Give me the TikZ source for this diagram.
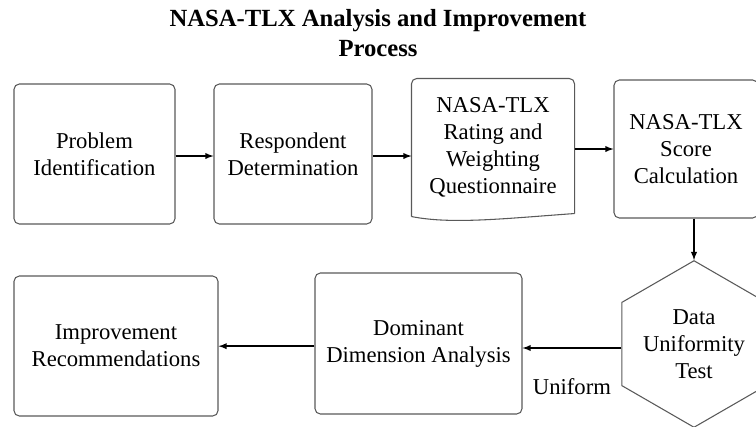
\documentclass[tikz,border=0pt]{standalone}
\usepackage{fontspec}
\setmainfont{LiberationSerif}[Extension=.ttf, UprightFont=*-Regular, BoldFont=*-Bold, ItalicFont=*-Italic, BoldItalicFont=*-BoldItalic]
\usetikzlibrary{calc,shapes.geometric}
\tikzset{
	stepbox/.style={draw=black!65, line width=0.8pt, rounded corners=4pt, align=center, inner sep=0pt},
	flowarrow/.style={-latex, line width=1.1pt},
}

\begin{document}
\begin{tikzpicture}[x=0.75pt, y=-0.75pt, font=\rmfamily\fontsize{17}{20.3}\selectfont]
		%%%%% START %%%%%
		
		\clip (0, 0) rectangle (756, 426);
		
		\node[font=\rmfamily\bfseries\fontsize{18.5}{22}\selectfont, align=center] (title) at (378, 33) {NASA-TLX Analysis and Improvement\\Process};
		
		% top row
		\node[stepbox, minimum width=161*0.75pt, minimum height=140*0.75pt] (problem) at (94.5, 154) {Problem\\Identification};
		\node[stepbox, minimum width=158*0.75pt, minimum height=140*0.75pt] (respondent) at (293, 154) {Respondent\\Determination};
		\node[stepbox, draw=none, minimum width=162*0.75pt, minimum height=137*0.75pt] (quest) at (493, 147.5) {NASA-TLX\\Rating and\\Weighting\\Questionnaire};
		\draw[line width=0.8pt, color=black!65, rounded corners=4pt] (quest.south west) -- (quest.north west) -- (quest.north east) -- ($(quest.south east)+(0, -3)$);
		\draw[line width=0.8pt, color=black!65] (quest.south west) .. controls ($(quest.south west)+(40, 8)$) and ($(quest.south east)+(-70, 2)$) .. ($(quest.south east)+(0, -3)$);
		\node[stepbox, minimum width=144*0.75pt, minimum height=138*0.75pt] (score) at (686, 149) {NASA-TLX\\Score\\Calculation};
		
		% bottom row
		\node[stepbox, regular polygon, regular polygon sides=6, shape border rotate=30, rounded corners=0pt, minimum size=164*0.75pt] (uniformity) at (694, 344) {Data\\Uniformity\\Test};
		\node[stepbox, minimum width=207*0.75pt, minimum height=141*0.75pt] (dominant) at (418.5, 343.5) {Dominant\\Dimension Analysis};
		\node[stepbox, minimum width=204*0.75pt, minimum height=140*0.75pt] (improve) at (116, 346) {Improvement\\Recommendations};
		
		% arrows
		\draw[flowarrow] ([yshift=-1.5pt]problem.east) -- ([yshift=-1.5pt]problem.east -| respondent.west);
		\draw[flowarrow] ([yshift=-1.5pt]respondent.east) -- ([yshift=-1.5pt]respondent.east -| quest.west);
		\draw[flowarrow] (quest.east |- score.west) -- (score.west);
		\draw[flowarrow] (score.south -| uniformity.north) -- (uniformity.north);
		\draw[flowarrow] ([yshift=-3pt]uniformity.west) -- ([yshift=-3pt]uniformity.west -| dominant.east) node[below=19pt, pos=0.5] (uniform) {Uniform};
		\draw[flowarrow] ([yshift=-2pt]dominant.west) -- ([yshift=-2pt]dominant.west -| improve.east);
		
		%%%%% END %%%%%
	\end{tikzpicture}
\end{document}
